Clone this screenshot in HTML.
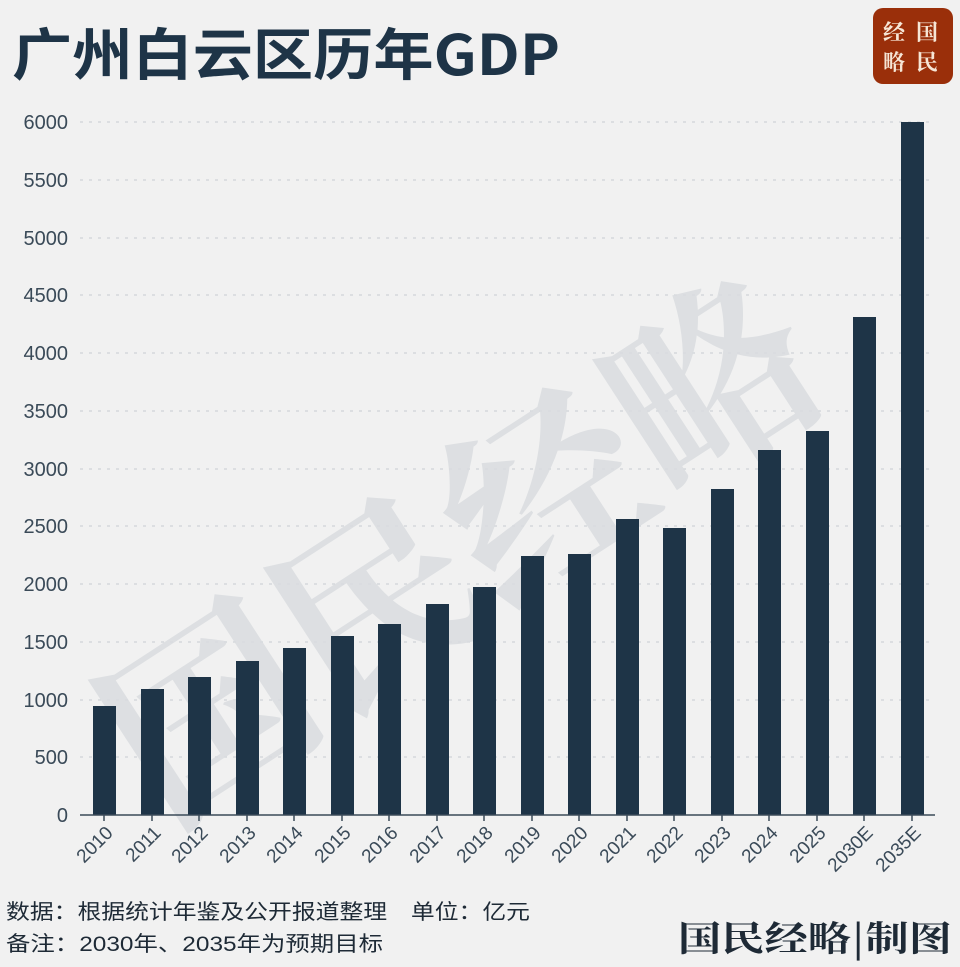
<!DOCTYPE html>
<html><head><meta charset="utf-8"><style>
html,body{margin:0;padding:0;background:#f1f1f1;}
svg{display:block;}
</style></head><body>
<svg width="960" height="967" viewBox="0 0 960 967" xmlns="http://www.w3.org/2000/svg" font-family="'Liberation Sans','Noto Sans CJK SC',sans-serif">
<rect width="960" height="967" fill="#f1f1f1"/>
<text x="12" y="75" font-size="56" font-weight="bold" fill="#1e3447" textLength="548" lengthAdjust="spacingAndGlyphs" font-family="'Noto Sans CJK SC','Liberation Sans',sans-serif">广州白云区历年GDP</text>
<rect x="873" y="8" width="80" height="76" rx="10" fill="#9a2f0a"/>
<text x="883" y="40" font-size="22" font-weight="bold" fill="#f6e6d6" font-family="'Noto Serif CJK SC',serif">经</text>
<text x="916" y="40" font-size="22" font-weight="bold" fill="#f6e6d6" font-family="'Noto Serif CJK SC',serif">国</text>
<text x="883" y="70" font-size="22" font-weight="bold" fill="#f6e6d6" font-family="'Noto Serif CJK SC',serif">略</text>
<text x="916" y="70" font-size="22" font-weight="bold" fill="#f6e6d6" font-family="'Noto Serif CJK SC',serif">民</text>
<g stroke="#cfd4d8" stroke-width="1.2" stroke-dasharray="3,6">
<line x1="80" x2="935" y1="122" y2="122"/><line x1="80" x2="935" y1="180" y2="180"/>
<line x1="80" x2="935" y1="238" y2="238"/><line x1="80" x2="935" y1="295" y2="295"/>
<line x1="80" x2="935" y1="353" y2="353"/><line x1="80" x2="935" y1="411" y2="411"/>
<line x1="80" x2="935" y1="469" y2="469"/><line x1="80" x2="935" y1="526" y2="526"/>
<line x1="80" x2="935" y1="584" y2="584"/><line x1="80" x2="935" y1="642" y2="642"/>
<line x1="80" x2="935" y1="700" y2="700"/><line x1="80" x2="935" y1="757" y2="757"/>
</g>
<text transform="translate(500,610) rotate(-33)" font-size="200" font-weight="bold" fill="#dadde0" text-anchor="middle" font-family="'Noto Serif CJK SC',serif" opacity="0.85">国民经略</text>
<g font-size="20" fill="#3a4a58" text-anchor="end">
<text x="68" y="129">6000</text><text x="68" y="187">5500</text><text x="68" y="245">5000</text>
<text x="68" y="302">4500</text><text x="68" y="360">4000</text><text x="68" y="418">3500</text>
<text x="68" y="476">3000</text><text x="68" y="533">2500</text><text x="68" y="591">2000</text>
<text x="68" y="649">1500</text><text x="68" y="707">1000</text><text x="68" y="764">500</text>
<text x="68" y="822">0</text>
</g>
<g fill="#1e3447">
<rect x="93" y="706" width="23" height="109"/>
<rect x="141" y="689" width="23" height="126"/>
<rect x="188" y="677" width="23" height="138"/>
<rect x="236" y="661" width="23" height="154"/>
<rect x="283" y="648" width="23" height="167"/>
<rect x="331" y="636" width="23" height="179"/>
<rect x="378" y="624" width="23" height="191"/>
<rect x="426" y="604" width="23" height="211"/>
<rect x="473" y="587" width="23" height="228"/>
<rect x="521" y="556" width="23" height="259"/>
<rect x="568" y="554" width="23" height="261"/>
<rect x="616" y="519" width="23" height="296"/>
<rect x="663" y="528" width="23" height="287"/>
<rect x="711" y="489" width="23" height="326"/>
<rect x="758" y="450" width="23" height="365"/>
<rect x="806" y="431" width="23" height="384"/>
<rect x="853" y="317" width="23" height="498"/>
<rect x="901" y="122" width="23" height="693"/>
</g>
<line x1="80" x2="935" y1="815" y2="815" stroke="#3a4a58" stroke-width="1.5"/>
<g stroke="#3a4a58" stroke-width="1.5">
<line x1="104" x2="104" y1="815" y2="821"/><line x1="152" x2="152" y1="815" y2="821"/><line x1="199" x2="199" y1="815" y2="821"/><line x1="247" x2="247" y1="815" y2="821"/><line x1="294" x2="294" y1="815" y2="821"/><line x1="342" x2="342" y1="815" y2="821"/><line x1="389" x2="389" y1="815" y2="821"/><line x1="437" x2="437" y1="815" y2="821"/><line x1="484" x2="484" y1="815" y2="821"/><line x1="532" x2="532" y1="815" y2="821"/><line x1="579" x2="579" y1="815" y2="821"/><line x1="627" x2="627" y1="815" y2="821"/><line x1="674" x2="674" y1="815" y2="821"/><line x1="722" x2="722" y1="815" y2="821"/><line x1="769" x2="769" y1="815" y2="821"/><line x1="817" x2="817" y1="815" y2="821"/><line x1="864" x2="864" y1="815" y2="821"/><line x1="912" x2="912" y1="815" y2="821"/>
</g>
<g font-size="19" fill="#3a4a58" text-anchor="end">
<text transform="translate(114,834) rotate(-45)">2010</text>
<text transform="translate(162,834) rotate(-45)">2011</text>
<text transform="translate(209,834) rotate(-45)">2012</text>
<text transform="translate(257,834) rotate(-45)">2013</text>
<text transform="translate(304,834) rotate(-45)">2014</text>
<text transform="translate(352,834) rotate(-45)">2015</text>
<text transform="translate(399,834) rotate(-45)">2016</text>
<text transform="translate(447,834) rotate(-45)">2017</text>
<text transform="translate(494,834) rotate(-45)">2018</text>
<text transform="translate(542,834) rotate(-45)">2019</text>
<text transform="translate(589,834) rotate(-45)">2020</text>
<text transform="translate(637,834) rotate(-45)">2021</text>
<text transform="translate(684,834) rotate(-45)">2022</text>
<text transform="translate(732,834) rotate(-45)">2023</text>
<text transform="translate(779,834) rotate(-45)">2024</text>
<text transform="translate(827,834) rotate(-45)">2025</text>
<text transform="translate(874,834) rotate(-45)">2030E</text>
<text transform="translate(922,834) rotate(-45)">2035E</text>
</g>
<text x="6" y="919" font-size="21" fill="#1e2a36" textLength="524" lengthAdjust="spacingAndGlyphs">数据：根据统计年鉴及公开报道整理　单位：亿元</text>
<text x="6" y="951" font-size="21" fill="#1e2a36" textLength="377" lengthAdjust="spacingAndGlyphs">备注：2030年、2035年为预期目标</text>
<text x="952" y="951" font-size="35" font-weight="bold" fill="#1e2a36" text-anchor="end" textLength="274" lengthAdjust="spacingAndGlyphs" font-family="'Noto Serif CJK SC',serif">国民经略|制图</text>
</svg>
</body></html>
